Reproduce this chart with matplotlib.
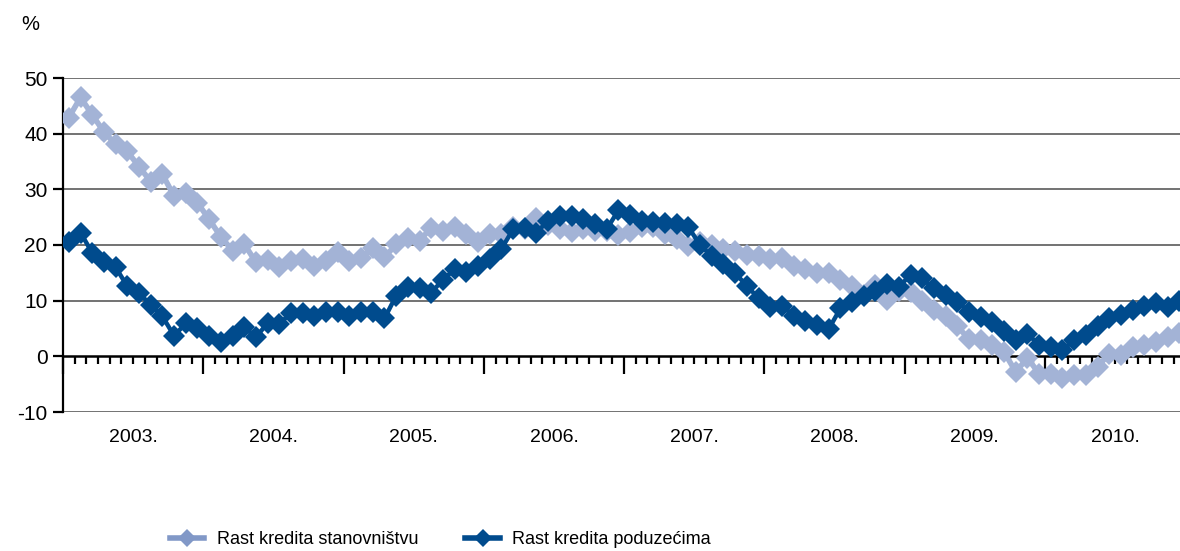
import matplotlib
matplotlib.use("Agg")
import matplotlib.pyplot as plt
import matplotlib.lines as mlines
from matplotlib.ticker import MultipleLocator, FixedLocator

plt.rcParams['font.family'] = ['Liberation Sans', 'DejaVu Sans']
plt.rcParams['axes.unicode_minus'] = False

# monthly data, Jan 2003 - Dec 2010, annual growth in %
years = ["2003.", "2004.", "2005.", "2006.", "2007.", "2008.", "2009.", "2010."]

stanovnistvo = [
    42.9, 46.5, 43.4, 40.3, 38.1, 36.8, 34.1, 31.4, 32.7, 28.8, 29.3, 27.6,
    24.6, 21.5, 19.0, 20.2, 16.9, 17.3, 16.0, 17.1, 17.4, 16.2, 17.1, 18.7,
    17.1, 17.7, 19.5, 17.8, 20.1, 21.2, 20.8, 23.1, 22.6, 23.2, 21.9, 20.5,
    22.0, 21.9, 23.3, 22.8, 24.9, 23.6, 22.9, 22.4, 22.8, 22.5, 22.6, 21.8,
    22.4, 23.2, 23.2, 22.0, 21.0, 19.8, 20.6, 20.0, 19.3, 18.9, 18.2, 18.0,
    17.4, 17.6, 16.3, 15.6, 14.9, 14.9, 13.8, 12.6, 11.1, 12.9, 10.2, 11.7,
    11.5, 9.9, 8.4, 7.2, 5.4, 3.1, 3.0, 2.1, 0.8, -2.8, -0.3, -3.1,
    -3.2, -3.9, -3.4, -3.4, -1.9, 0.5, 0.2, 1.6, 2.1, 2.6, 3.4, 4.2,
]

poduzeca = [
    20.6, 22.2, 18.6, 16.9, 16.0, 12.6, 11.3, 9.3, 7.2, 3.7, 5.9, 5.1,
    3.6, 2.5, 3.6, 5.3, 3.4, 6.0, 5.8, 7.8, 7.7, 7.3, 8.0, 8.0,
    7.2, 7.9, 7.9, 6.8, 10.9, 12.5, 12.2, 11.4, 13.8, 15.6, 15.2, 16.2,
    17.4, 19.3, 22.8, 23.1, 22.2, 24.4, 25.2, 25.2, 24.7, 23.8, 22.8, 26.2,
    25.4, 24.3, 24.2, 24.0, 23.8, 23.2, 20.0, 18.0, 16.5, 15.0, 12.6, 10.5,
    8.9, 9.1, 7.3, 6.4, 5.7, 4.9, 8.6, 9.8, 10.8, 11.8, 13.0, 12.4,
    14.7, 14.0, 12.2, 11.0, 9.8, 8.0, 7.0, 6.1, 4.5, 3.0, 4.0, 2.1,
    1.7, 1.1, 3.0, 3.8, 5.4, 6.9, 7.4, 8.4, 9.0, 9.5, 8.8, 9.9,
]

lbl_st = "Rast kredita stanovništvu"
lbl_po = "Rast kredita poduzećima"

c_light = '#a3b3d6'
c_dark = '#004b8d'

fig = plt.figure(figsize=(11.8, 5.51), dpi=100)
ax = fig.add_axes([63/1180, 1 - 412/551, 1 - 63/1180, (412 - 78)/551])

months = list(range(len(stanovnistvo)))
ax.plot(months, stanovnistvo, color=c_light, lw=4.0, marker='D', ms=11.5,
        markeredgewidth=0, zorder=3)
ax.plot(months, poduzeca, color=c_dark, lw=3.2, marker='D', ms=11.5,
        markeredgewidth=0, zorder=4)

ax.set_ylim(-10, 50)
ax.set_xlim(-0.5, -0.5 + (1180 - 63) / 11.69)

# grid lines
for v in [-10, 10, 20, 30, 40, 50]:
    ax.axhline(v, color='#5a5a5a', lw=1.2, zorder=1)

for s in ['top', 'right']:
    ax.spines[s].set_visible(False)
ax.spines['left'].set_linewidth(1.6)
ax.spines['bottom'].set_position(('data', 0))
ax.spines['bottom'].set_linewidth(1.8)
ax.spines['bottom'].set_zorder(2)

ax.yaxis.set_major_locator(MultipleLocator(10))
ax.tick_params(axis='y', direction='out', length=7, width=1.6, labelsize=15,
               pad=4, colors='black')

nm = len(months)
ax.xaxis.set_major_locator(FixedLocator([-0.5 + 12*k for k in range(9)]))
ax.xaxis.set_minor_locator(FixedLocator([-0.5 + k for k in range(nm + 1)]))
ax.tick_params(axis='x', which='major', direction='out', length=13, width=1.6,
               labelbottom=False)
ax.tick_params(axis='x', which='minor', direction='out', length=6, width=1.6)

for k, y in enumerate(years):
    ax.text(5.5 + 12*k, -14.6, y, ha='center', va='center', fontsize=14,
            clip_on=False)

fig.text(30/1180, 1 - 25/551, '%', ha='center', va='center', fontsize=14.5)

h1 = mlines.Line2D([], [], color='#8198c7', lw=4, marker='D', ms=9,
                   markeredgewidth=0, label=lbl_st)
h2 = mlines.Line2D([], [], color=c_dark, lw=4, marker='D', ms=9,
                   markeredgewidth=0, label=lbl_po)
fig.legend(handles=[h1, h2], loc='center left',
           bbox_to_anchor=(170/1180, 1 - 540/551), ncol=2, frameon=False,
           fontsize=13, borderpad=0, borderaxespad=0, handlelength=1.9,
           handletextpad=0.7, columnspacing=2.6)

fig.savefig('out.png', dpi=100)
